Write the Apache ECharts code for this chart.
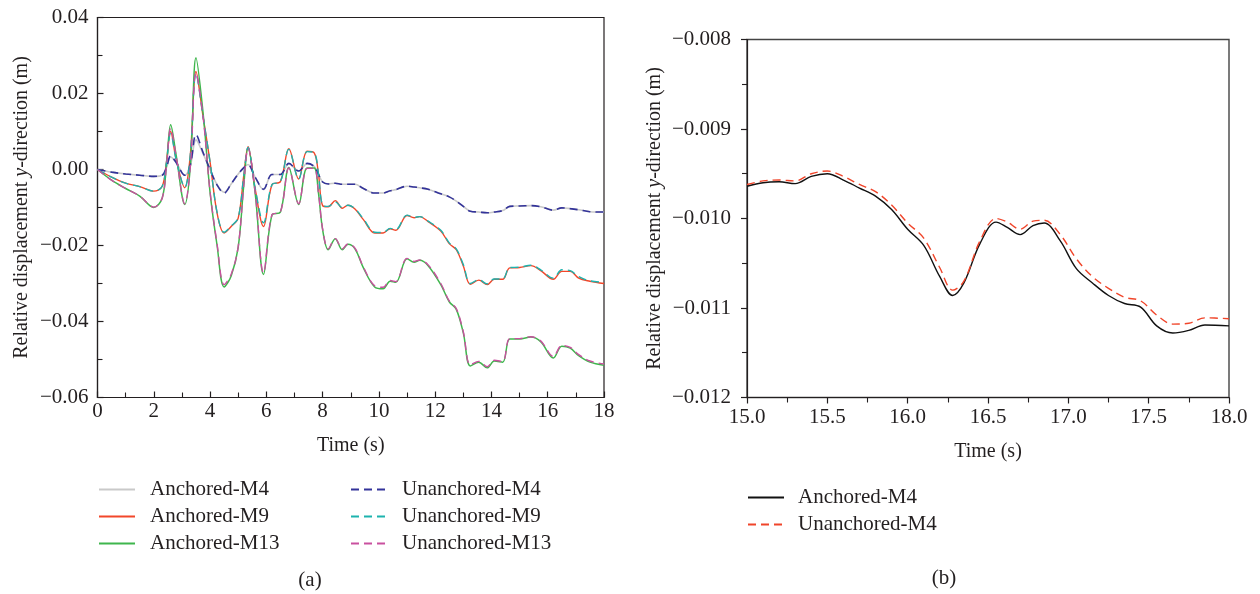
<!DOCTYPE html>
<html><head><meta charset="utf-8">
<script src="https://cdn.jsdelivr.net/npm/echarts@6/dist/echarts.min.js"></script>
<style>html,body{margin:0;padding:0;background:#fff}#c{width:1260px;height:594px}</style>
</head><body><div id="c"></div>
<script>
// ---------- data: panel (a) ----------
const timeA = [0, 0.5, 1.0, 1.5, 2.0, 2.3, 2.45, 2.6, 2.8, 3.1, 3.3, 3.5, 3.75, 4.0, 4.25, 4.5, 4.75, 5.0, 5.2, 5.35, 5.6, 5.9, 6.2, 6.5, 6.8, 7.15, 7.45, 7.7, 7.85, 8.0, 8.2, 8.45, 8.7, 8.9, 9.15, 9.45, 9.85, 10.15, 10.4, 10.6, 11.0, 11.25, 11.45, 11.75, 12.2, 12.5, 12.75, 13.0, 13.25, 13.55, 13.85, 14.1, 14.4, 14.65, 15.0, 15.4, 15.75, 16.2, 16.5, 16.8, 17.1, 17.5, 18.0];

const anchoredM4 = [0, -0.0007, -0.0012, -0.0015, -0.0018, -0.0015, 0.0005, 0.0033, 0.0018, -0.0015, 0.0010, 0.0078, 0.0042, 0.0000, -0.0040, -0.0060, -0.0038, -0.0012, 0.0005, 0.0013, -0.0020, -0.0053, -0.0013, -0.0013, 0.0015, -0.0004, 0.0015, 0.0008, -0.0012, -0.0033, -0.0038, -0.0036, -0.0039, -0.0039, -0.0039, -0.0050, -0.0062, -0.0062, -0.0056, -0.0053, -0.0044, -0.0046, -0.0048, -0.0052, -0.0064, -0.0072, -0.0083, -0.0097, -0.0110, -0.0112, -0.0114, -0.0112, -0.0108, -0.0097, -0.0096, -0.0095, -0.0098, -0.0107, -0.0101, -0.0103, -0.0106, -0.0111, -0.0112];
const unanchoredM4 = [0, -0.0007, -0.0012, -0.0015, -0.0018, -0.0015, 0.0005, 0.0036, 0.0018, -0.0015, 0.0012, 0.0092, 0.0045, 0.0000, -0.0041, -0.0062, -0.0038, -0.0012, 0.0005, 0.0013, -0.0020, -0.0052, -0.0013, -0.0013, 0.0016, -0.0004, 0.0016, 0.0008, -0.0012, -0.0033, -0.0038, -0.0036, -0.0039, -0.0039, -0.0039, -0.0050, -0.0062, -0.0062, -0.0056, -0.0053, -0.0044, -0.0046, -0.0048, -0.0052, -0.0064, -0.0072, -0.0083, -0.0097, -0.0110, -0.0112, -0.0114, -0.0112, -0.0108, -0.0097, -0.0096, -0.0095, -0.0098, -0.0107, -0.0101, -0.0103, -0.0106, -0.0111, -0.0112];

const anchoredM9 = [0, -0.0020, -0.0036, -0.0045, -0.0057, -0.0044, 0.0020, 0.0100, 0.0025, -0.0048, 0.0040, 0.0258, 0.0140, 0.0020, -0.0115, -0.0167, -0.0150, -0.0128, -0.0015, 0.0060, -0.0050, -0.0150, -0.0040, -0.0032, 0.0055, -0.0025, 0.0048, 0.0044, -0.0010, -0.0095, -0.0098, -0.0082, -0.0102, -0.0094, -0.0104, -0.0132, -0.0167, -0.0167, -0.0156, -0.0160, -0.0121, -0.0127, -0.0124, -0.0137, -0.0162, -0.0195, -0.0211, -0.0254, -0.0302, -0.0291, -0.0303, -0.0289, -0.0289, -0.0259, -0.0258, -0.0253, -0.0266, -0.0289, -0.0268, -0.0268, -0.0286, -0.0294, -0.0300];
const unanchoredM9 = [0, -0.0020, -0.0036, -0.0045, -0.0057, -0.0044, 0.0018, 0.0095, 0.0024, -0.0047, 0.0040, 0.0252, 0.0140, 0.0020, -0.0113, -0.0165, -0.0149, -0.0127, -0.0015, 0.0058, -0.0048, -0.0140, -0.0040, -0.0032, 0.0053, -0.0025, 0.0047, 0.0044, -0.0010, -0.0094, -0.0097, -0.0085, -0.0100, -0.0094, -0.0103, -0.0130, -0.0165, -0.0166, -0.0155, -0.0158, -0.0120, -0.0126, -0.0124, -0.0136, -0.0160, -0.0193, -0.0209, -0.0250, -0.0300, -0.0290, -0.0301, -0.0288, -0.0288, -0.0258, -0.0257, -0.0252, -0.0264, -0.0286, -0.0264, -0.0266, -0.0282, -0.0293, -0.0297];

const anchoredM13 = [0, -0.0028, -0.0050, -0.0070, -0.0100, -0.0075, 0.0010, 0.0118, 0.0035, -0.0092, 0.0010, 0.0294, 0.0150, -0.0060, -0.0200, -0.0309, -0.0280, -0.0205, -0.0040, 0.0058, -0.0060, -0.0276, -0.0120, -0.0112, 0.0005, -0.0092, 0.0004, 0.0004, -0.0060, -0.0158, -0.0211, -0.0182, -0.0211, -0.0197, -0.0209, -0.0259, -0.0309, -0.0314, -0.0294, -0.0297, -0.0235, -0.0244, -0.0239, -0.0253, -0.0303, -0.0348, -0.0368, -0.0430, -0.0517, -0.0507, -0.0522, -0.0504, -0.0507, -0.0446, -0.0446, -0.0441, -0.0453, -0.0496, -0.0465, -0.0470, -0.0490, -0.0507, -0.0515];
const unanchoredM13 = [0, -0.0028, -0.0050, -0.0070, -0.0099, -0.0075, 0.0008, 0.0108, 0.0033, -0.0090, 0.0008, 0.0255, 0.0140, -0.0058, -0.0196, -0.0303, -0.0276, -0.0203, -0.0040, 0.0056, -0.0058, -0.0272, -0.0119, -0.0112, 0.0004, -0.0090, 0.0003, 0.0003, -0.0060, -0.0156, -0.0209, -0.0182, -0.0209, -0.0196, -0.0207, -0.0257, -0.0306, -0.0310, -0.0292, -0.0295, -0.0234, -0.0242, -0.0238, -0.0251, -0.0300, -0.0346, -0.0366, -0.0427, -0.0514, -0.0505, -0.0519, -0.0502, -0.0505, -0.0445, -0.0445, -0.0440, -0.0451, -0.0492, -0.0463, -0.0468, -0.0487, -0.0504, -0.0512];

// ---------- data: panel (b) ----------
const timeB = [15.0, 15.1, 15.2, 15.3, 15.4, 15.5, 15.6, 15.7, 15.8, 15.9, 16.0, 16.1, 16.2, 16.28, 16.35, 16.45, 16.55, 16.62, 16.7, 16.78, 16.85, 16.95, 17.05, 17.15, 17.25, 17.35, 17.45, 17.55, 17.65, 17.75, 17.85, 18.0];
const bAnchoredM4 = [-0.00964, -0.00960, -0.00959, -0.00961, -0.00953, -0.00950, -0.00957, -0.00966, -0.00975, -0.00990, -0.01012, -0.01030, -0.01065, -0.01086, -0.01072, -0.01028, -0.01004, -0.01010, -0.01018, -0.01008, -0.01005, -0.01025, -0.01056, -0.01072, -0.01086, -0.01095, -0.01099, -0.01120, -0.01128, -0.01125, -0.01119, -0.01120];
const bUnanchoredM4 = [-0.00962, -0.00958, -0.00957, -0.00958, -0.00950, -0.00947, -0.00953, -0.00962, -0.00970, -0.00985, -0.01005, -0.01022, -0.01055, -0.01080, -0.01070, -0.01025, -0.01000, -0.01004, -0.01012, -0.01003, -0.01002, -0.01018, -0.01045, -0.01065, -0.01078, -0.01088, -0.01092, -0.01108, -0.01118, -0.01117, -0.01111, -0.01112];

// ---------- ticks ----------
const xTicksA = {min: 0, max: 18, interval: 2};
const yTicksA = {min: -0.06, max: 0.04, interval: 0.02};
const xTicksB = {min: 15, max: 18, interval: 0.5};
const yTicksB = {min: -0.012, max: -0.008, interval: 0.001};

const FONT = '"Liberation Serif", "DejaVu Serif", serif';
const FS = 21;
const TXT = '#231f20';
const AX = '#231f20';
const fmt = d => v => (v < -1e-12 ? '\u2212' : '') + Math.abs(v).toFixed(d);
const pairs = (t, v) => t.map((x, i) => [x, v[i]]);

const labelStyle = {color: TXT, fontFamily: FONT, fontSize: FS};
const nameRich = {
  n: {fontFamily: FONT, fontSize: 20, color: TXT},
  i: {fontFamily: FONT, fontSize: 20, color: TXT, fontStyle: 'italic'}
};
const yName = '{n|Relative displacement }{i|y}{n|-direction (m)}';

function line(name, xi, t, v, color, dashed, width) {
  return {
    name, type: 'line', xAxisIndex: xi, yAxisIndex: xi,
    data: pairs(t, v), showSymbol: false, symbol: 'none', smooth: 0.35,
    lineStyle: {color, width: width || 1.4, type: dashed ? [8, 5] : 'solid'},
    itemStyle: {color}, animation: false
  };
}
const legendCommon = {
  orient: 'vertical', itemWidth: 36, itemHeight: 12, itemGap: 6, selectedMode: false,
  itemStyle: {opacity: 0, borderWidth: 0, color: 'rgba(0,0,0,0)'}
};

const chart = echarts.init(document.getElementById('c'));
chart.setOption({
  animation: false,
  backgroundColor: '#fff',
  grid: [
    {left: 97.5, top: 17.5, width: 506.5, height: 380, show: true, borderColor: AX, borderWidth: 1.2, backgroundColor: 'transparent'},
    {left: 747, top: 39.5, width: 482, height: 358, show: true, borderColor: '#444', borderWidth: 1.4, backgroundColor: 'transparent'}
  ],
  xAxis: [
    {gridIndex: 0, type: 'value', ...xTicksA,
     axisLine: {onZero: false, lineStyle: {color: AX, width: 1.2}},
     axisTick: {inside: true, length: 6, lineStyle: {color: AX, width: 1.2}},
     minorTick: {show: true, splitNumber: 2, length: 5, lineStyle: {color: AX, width: 1.1}},
     splitLine: {show: false},
     axisLabel: {...labelStyle, margin: 3, formatter: fmt(0)},
     name: 'Time (s)', nameLocation: 'middle', nameGap: 38,
     nameTextStyle: {fontFamily: FONT, fontSize: 20, color: TXT}},
    {gridIndex: 1, type: 'value', ...xTicksB,
     axisLine: {onZero: false, lineStyle: {color: AX, width: 1.2}},
     axisTick: {inside: false, length: 6, lineStyle: {color: AX, width: 1.2}},
     minorTick: {show: true, splitNumber: 2, length: 5, lineStyle: {color: AX, width: 1.1}},
     splitLine: {show: false},
     axisLabel: {...labelStyle, margin: 9, formatter: fmt(1)},
     name: 'Time (s)', nameLocation: 'middle', nameGap: 44,
     nameTextStyle: {fontFamily: FONT, fontSize: 20, color: TXT}}
  ],
  yAxis: [
    {gridIndex: 0, type: 'value', ...yTicksA,
     axisLine: {onZero: false, lineStyle: {color: AX, width: 1.2}},
     axisTick: {inside: true, length: 6, lineStyle: {color: AX, width: 1.2}},
     minorTick: {show: true, splitNumber: 2, length: 5, lineStyle: {color: AX, width: 1.1}},
     splitLine: {show: false},
     axisLabel: {...labelStyle, margin: 9, formatter: fmt(2)},
     name: yName, nameLocation: 'middle', nameGap: 66,
     nameTextStyle: {rich: nameRich}},
    {gridIndex: 1, type: 'value', ...yTicksB,
     axisLine: {onZero: false, lineStyle: {color: AX, width: 1.2}},
     axisTick: {inside: false, length: 6, lineStyle: {color: AX, width: 1.2}},
     minorTick: {show: true, splitNumber: 2, length: 5, lineStyle: {color: AX, width: 1.1}},
     splitLine: {show: false},
     axisLabel: {...labelStyle, margin: 16, formatter: fmt(3)},
     name: yName, nameLocation: 'middle', nameGap: 82,
     nameTextStyle: {rich: nameRich}}
  ],
  legend: [
    {...legendCommon, data: ['Anchored-M4', 'Anchored-M9', 'Anchored-M13'], left: 93, top: 474,
     textStyle: {fontFamily: FONT, fontSize: FS, color: TXT, padding: [0, 0, 0, 10]}},
    {...legendCommon, data: ['Unanchored-M4', 'Unanchored-M9', 'Unanchored-M13'], left: 345, top: 474,
     textStyle: {fontFamily: FONT, fontSize: FS, color: TXT, padding: [0, 0, 0, 10]}},
    {...legendCommon, data: ['Anchored-M4 (b)', 'Unanchored-M4 (b)'], left: 742, top: 482,
     formatter: n => n.replace(' (b)', ''),
     textStyle: {fontFamily: FONT, fontSize: FS, color: TXT, padding: [0, 0, 0, 9]}}
  ],
  graphic: [
    {type: 'text', x: 310, y: 580, style: {text: '(a)', font: '21px "Liberation Serif"', fill: TXT, align: 'center', verticalAlign: 'middle'}},
    {type: 'text', x: 944, y: 578, style: {text: '(b)', font: '21px "Liberation Serif"', fill: TXT, align: 'center', verticalAlign: 'middle'}}
  ],
  series: [
    line('Anchored-M4', 0, timeA, anchoredM4, '#c9c9c9', false, 1.6),
    line('Anchored-M9', 0, timeA, anchoredM9, '#f2472a', false, 1.4),
    line('Anchored-M13', 0, timeA, anchoredM13, '#3fb64d', false, 1.5),
    line('Unanchored-M4', 0, timeA, unanchoredM4, '#33339a', true, 1.6),
    line('Unanchored-M9', 0, timeA, unanchoredM9, '#1db3ae', true, 1.4),
    line('Unanchored-M13', 0, timeA, unanchoredM13, '#c9509f', true, 1.4),
    line('Anchored-M4 (b)', 1, timeB, bAnchoredM4, '#111111', false, 1.4),
    line('Unanchored-M4 (b)', 1, timeB, bUnanchoredM4, '#f0452a', true, 1.4)
  ]
});
</script>
</body></html>
